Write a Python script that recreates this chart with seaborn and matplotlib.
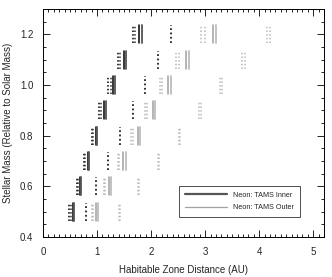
import numpy as np
import pandas as pd
import seaborn as sns
import matplotlib
matplotlib.use("Agg")
import matplotlib.pyplot as plt
from matplotlib.lines import Line2D
from matplotlib.ticker import MultipleLocator

# stellar masses (rows)
masses = [0.5, 0.6, 0.7, 0.8, 0.9, 1.0, 1.1, 1.2]

# habitable zone edges (AU), one value per mass
inner_dot_a = [0.49, 0.62, 0.75, 0.90, 1.04, 1.21, 1.38, 1.66]
inner_dot_b = [0.52, 0.64, 0.78, 0.93, 1.08, 1.25, 1.42, 1.70]
inner_solid_a = [0.55, 0.68, 0.83, 0.98, 1.13, 1.30, 1.49, 1.78]
inner_solid_b = [0.57, 0.70, 0.85, 1.00, 1.16, 1.33, 1.53, 1.83]
inner_dot_far = [0.79, 0.99, 1.21, 1.43, 1.66, 1.89, 2.12, 2.37]
outer_dot_a = [0.90, 1.12, 1.38, 1.62, 1.88, 2.16, 2.46, 2.92]
outer_dot_b = [0.93, 1.15, 1.41, 1.66, 1.93, 2.21, 2.51, 2.99]
outer_solid_a = [0.99, 1.23, 1.48, 1.75, 2.03, 2.31, 2.64, 3.14]
outer_solid_b = [1.02, 1.26, 1.53, 1.80, 2.07, 2.37, 2.70, 3.20]
outer_dot_far_a = [1.40, 1.75, 2.12, 2.51, 2.88, 3.28, 3.68, 4.14]
outer_dot_far_b = [1.43, 1.78, 2.15, 2.54, 2.92, 3.31, 3.73, 4.20]

legend_labels = ["Neon: TAMS Inner", "Neon: TAMS Outer"]

sns.set_theme(style="ticks")
plt.rcParams['font.family'] = ['Liberation Sans', 'DejaVu Sans']

dotted = (0, (1, 1.4))
series = [
    (inner_dot_a, "black", 1.1, dotted),
    (inner_dot_b, "#333333", 1.1, dotted),
    (inner_solid_a, "black", 1.1, "-"),
    (inner_solid_b, "#555555", 1.3, "-"),
    (inner_dot_far, "#222222", 1.3, dotted),
    (outer_dot_a, "#b8b8b8", 1.1, dotted),
    (outer_dot_b, "#b8b8b8", 1.1, dotted),
    (outer_solid_a, "#a0a0a0", 1.1, "-"),
    (outer_solid_b, "#bdbdbd", 1.3, "-"),
    (outer_dot_far_a, "#bcbcbc", 1.1, dotted),
    (outer_dot_far_b, "#bcbcbc", 1.1, dotted),
]

half = 0.036  # half height of each marker segment

fig = plt.figure(figsize=(3.32, 2.77), dpi=100)
ax = fig.add_axes([0.1295, 0.1444, 0.8465, 0.8231])

for vals, color, lw, ls in series:
    rows = []
    for i, (m, x) in enumerate(zip(masses, vals)):
        rows.append({"x": x, "y": m - half, "unit": i})
        rows.append({"x": x, "y": m + half, "unit": i})
    df = pd.DataFrame(rows)
    sns.lineplot(data=df, x="x", y="y", units="unit", estimator=None,
                 sort=False, color=color, lw=lw, linestyle=ls, ax=ax,
                 legend=False)

ax.set_xlim(0, 5.2)
ax.set_ylim(0.4, 1.3)
ax.xaxis.set_major_locator(MultipleLocator(1))
ax.xaxis.set_minor_locator(MultipleLocator(0.1))
ax.yaxis.set_minor_locator(MultipleLocator(0.05))
ax.set_yticks([0.4, 0.6, 0.8, 1.0, 1.2])
ax.set_yticklabels(["0.4", "0.6", "0.8", "1.0", "1.2"])
ax.tick_params(which="both", direction="in", top=True, right=True,
               width=0.6, labelsize=7, color="black")
ax.tick_params(which="major", length=5, pad=7)
ax.tick_params(which="minor", length=2.5)
for s in ax.spines.values():
    s.set_linewidth(0.7)
    s.set_color("black")

ax.set_xlabel("Habitable Zone Distance (AU)", fontsize=7, labelpad=6)
ax.set_ylabel("Stellar Mass (Relative to Solar Mass)", fontsize=7, labelpad=5)

handles = [Line2D([], [], color="#555555", lw=1.6),
           Line2D([], [], color="#a0a0a0", lw=0.9)]
leg = ax.legend(handles, legend_labels, loc="lower left",
                bbox_to_anchor=(0.484, 0.088), fontsize=5.2,
                handlelength=5.8, handletextpad=0.9, borderpad=0.8,
                labelspacing=0.75, frameon=True, fancybox=False,
                borderaxespad=0)
leg.get_frame().set_edgecolor("black")
leg.get_frame().set_linewidth(0.6)

fig.savefig("out.png", dpi=100)
